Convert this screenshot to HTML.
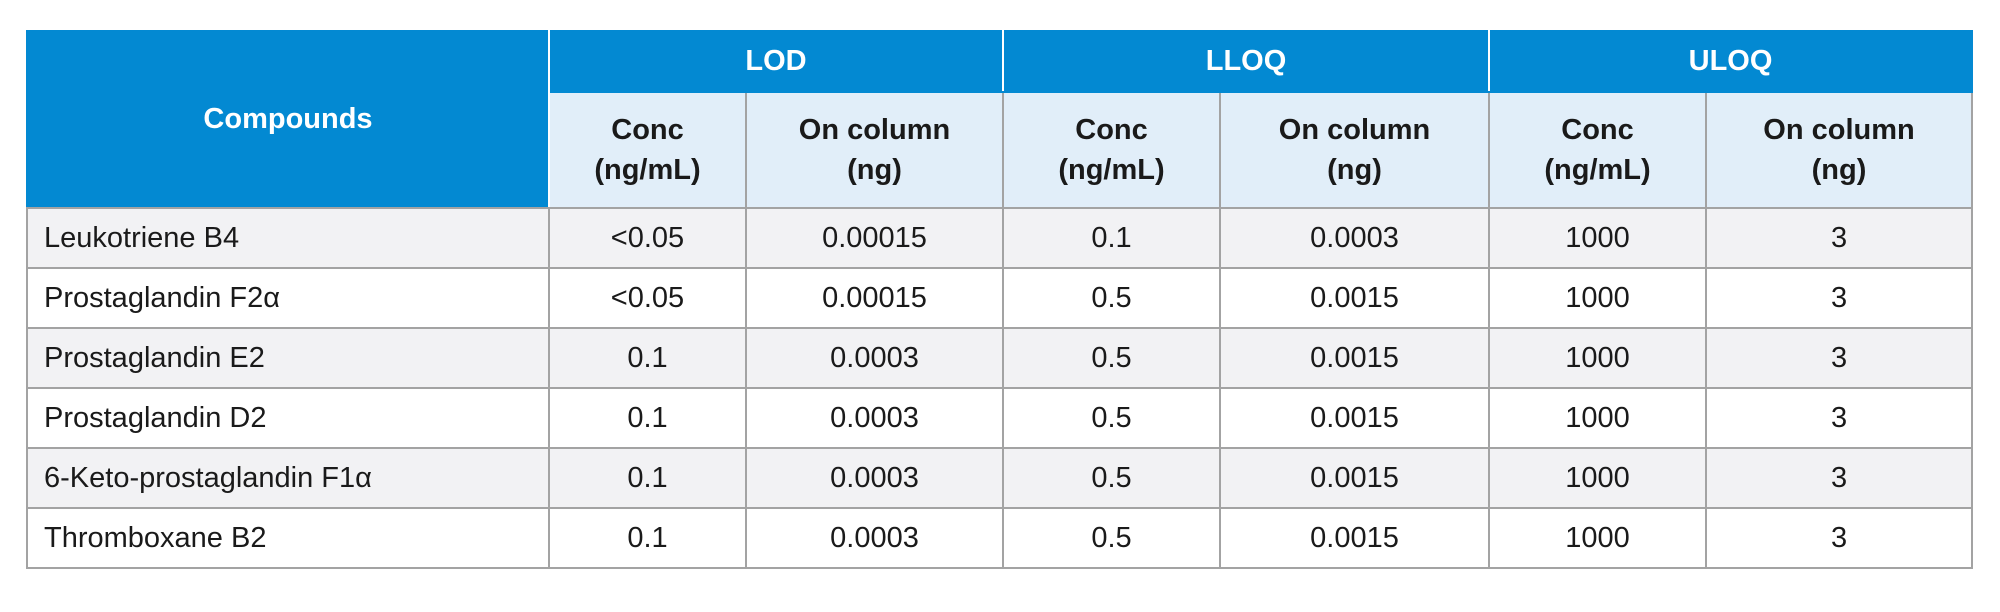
<!DOCTYPE html>
<html><head><meta charset="utf-8"><style>
body{margin:0;background:#fff;width:2000px;height:612px;overflow:hidden;font-family:"Liberation Sans",sans-serif;}
table{position:absolute;left:26px;top:30px;border-collapse:collapse;table-layout:fixed;width:1945px;}
td,th{border:2px solid #a3a3a3;text-align:center;font-size:29px;color:#1a1a1a;padding:0;font-weight:normal;}
th.top{background:#0389d2;color:#fff;font-weight:bold;border-color:#0389d2;border-left:2px solid #fff;border-right:2px solid #fff;}
th.top.first{border-left-color:#0389d2;border-bottom-color:#a3a3a3;}
th.sub{background:#e1eef9;color:#1a1a1a;font-weight:bold;line-height:40px;}
td{height:58px;}
td.name{text-align:left;padding-left:16px;}
tr.odd td{background:#f2f2f4;}
</style></head><body>
<table>
<colgroup><col style="width:522px"><col style="width:197px"><col style="width:257px"><col style="width:217px"><col style="width:269px"><col style="width:217px"><col style="width:266px"></colgroup>
<tr style="height:61px">
<th class="top first" rowspan="2">Compounds</th>
<th class="top" colspan="2">LOD</th>
<th class="top" colspan="2">LLOQ</th>
<th class="top" colspan="2" style="border-right-color:#0389d2">ULOQ</th>
</tr>
<tr style="height:116px">
<th class="sub">Conc<br>(ng/mL)</th>
<th class="sub">On column<br>(ng)</th>
<th class="sub">Conc<br>(ng/mL)</th>
<th class="sub">On column<br>(ng)</th>
<th class="sub">Conc<br>(ng/mL)</th>
<th class="sub">On column<br>(ng)</th>
</tr>
<tr class="odd"><td class="name">Leukotriene B4</td><td>&lt;0.05</td><td>0.00015</td><td>0.1</td><td>0.0003</td><td>1000</td><td>3</td></tr>
<tr><td class="name">Prostaglandin F2α</td><td>&lt;0.05</td><td>0.00015</td><td>0.5</td><td>0.0015</td><td>1000</td><td>3</td></tr>
<tr class="odd"><td class="name">Prostaglandin E2</td><td>0.1</td><td>0.0003</td><td>0.5</td><td>0.0015</td><td>1000</td><td>3</td></tr>
<tr><td class="name">Prostaglandin D2</td><td>0.1</td><td>0.0003</td><td>0.5</td><td>0.0015</td><td>1000</td><td>3</td></tr>
<tr class="odd"><td class="name">6-Keto-prostaglandin F1α</td><td>0.1</td><td>0.0003</td><td>0.5</td><td>0.0015</td><td>1000</td><td>3</td></tr>
<tr><td class="name">Thromboxane B2</td><td>0.1</td><td>0.0003</td><td>0.5</td><td>0.0015</td><td>1000</td><td>3</td></tr>
</table>
</body></html>
